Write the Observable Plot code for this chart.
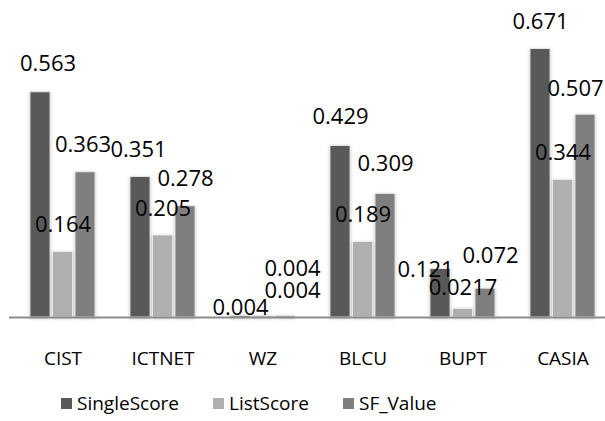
<!DOCTYPE html>
<html>
<head>
<meta charset="utf-8">
<script src="https://cdn.jsdelivr.net/npm/d3@7"></script>
<script src="https://cdn.jsdelivr.net/npm/@observablehq/plot@0.6"></script>
<style>
  html, body { margin: 0; padding: 0; background: #fff; }
  #chart { width: 605px; }
  #chart svg { overflow: visible; }
  g.bars rect { filter: drop-shadow(0px 1px 1.5px rgba(0,0,0,0.28)); }
  .lg-swatches { font-family: "Open Sans", sans-serif !important; font-size: 19px !important; color: #000; margin: 0 !important; }
  .lg-swatches-wrap { padding-left: 61px; min-height: 36px !important; }
  .lg-swatch { margin-right: 34px !important; }
  .lg-swatch > svg { margin-right: 5px !important; }
</style>
</head>
<body>
<div id="chart"></div>
<script>
const categories = ["CIST", "ICTNET", "WZ", "BLCU", "BUPT", "CASIA"];
const seriesNames = ["SingleScore", "ListScore", "SF_Value"];
const singleScore = [0.563, 0.351, 0.004, 0.429, 0.121, 0.671];
const listScore   = [0.164, 0.205, 0.004, 0.189, 0.0217, 0.344];
const sfValue     = [0.363, 0.278, 0.004, 0.309, 0.072, 0.507];
const colors = ["#595959", "#afafaf", "#7f7f7f"];

const seriesValues = [singleScore, listScore, sfValue];
const rows = [];
seriesNames.forEach((s, si) => {
  categories.forEach((c, ci) => rows.push({cat: c, series: s, value: seriesValues[si][ci]}));
});

// bar placement inside each category band (band = 65px: 3 bars of 20px, 2.5px gaps)
const insets = {
  SingleScore: {insetLeft: 0, insetRight: 45},
  ListScore: {insetLeft: 22.5, insetRight: 22.5},
  SF_Value: {insetLeft: 45, insetRight: 0}
};
const barCenter = {SingleScore: -22.5, ListScore: 0, SF_Value: 22.5};

// label nudges (relative to each bar's top centre), to mimic the original label layout
const nudges = [
  {cat: "CIST", series: "SingleScore", dx: 7.5, dy: -28},
  {cat: "CIST", series: "SF_Value", dx: -2.5, dy: -27},
  {cat: "ICTNET", series: "SingleScore", dx: -2, dy: -27.5},
  {cat: "WZ", series: "SingleScore", dx: 0, dy: -8},
  {cat: "WZ", series: "ListScore", dx: 29.5, dy: -25},
  {cat: "WZ", series: "SF_Value", dx: 7, dy: -47},
  {cat: "BLCU", series: "SingleScore", dx: 0, dy: -29},
  {cat: "BLCU", series: "SF_Value", dx: 0, dy: -30},
  {cat: "BUPT", series: "SingleScore", dx: -15, dy: 1},
  {cat: "BUPT", series: "ListScore", dx: 0, dy: -21},
  {cat: "BUPT", series: "SF_Value", dx: 5, dy: -33},
  {cat: "CASIA", series: "SF_Value", dx: -10, dy: -26}
];
const isNudged = d => nudges.some(n => n.cat === d.cat && n.series === d.series);

const labelFont = {fontFamily: "Open Sans", fontSize: 22, fill: "#000", text: d => String(d.value)};

const marks = [];
seriesNames.forEach((s, si) => {
  marks.push(Plot.barY(rows.filter(d => d.series === s), {
    x: "cat", y: "value", fill: colors[si], stroke: "#f4f4f4", strokeWidth: 0.8,
    className: "bars", ...insets[s]
  }));
});
marks.push(Plot.ruleY([0], {stroke: "#8c8c8c", strokeWidth: 2}));
seriesNames.forEach(s => {
  marks.push(Plot.text(rows.filter(d => d.series === s && !isNudged(d)), {
    x: "cat", y: "value", dx: barCenter[s], dy: -27, ...labelFont
  }));
});
nudges.forEach(n => {
  marks.push(Plot.text(rows.filter(d => d.cat === n.cat && d.series === n.series), {
    x: "cat", y: "value", dx: barCenter[n.series] + n.dx, dy: n.dy, ...labelFont
  }));
});
marks.push(Plot.axisX({tickSize: 0, tickPadding: 34, fontSize: 19, fontFamily: "Open Sans", fill: "#000", label: null}));

const chart = Plot.plot({
  width: 605,
  height: 385,
  marginLeft: 9,
  marginRight: 0,
  marginTop: 37,
  marginBottom: 68,
  style: {fontFamily: "Open Sans", background: "#fff", color: "#000"},
  x: {domain: categories, range: [28.3, 597], paddingInner: 0.355, paddingOuter: 0, axis: null},
  y: {domain: [0, 0.7], axis: null},
  marks
});

const legend = Plot.legend({
  color: {type: "ordinal", domain: seriesNames, range: colors},
  legend: "swatches",
  swatchSize: 11,
  className: "lg"
});

const root = document.getElementById("chart");
root.appendChild(chart);
root.appendChild(legend);
</script>
</body>
</html>
